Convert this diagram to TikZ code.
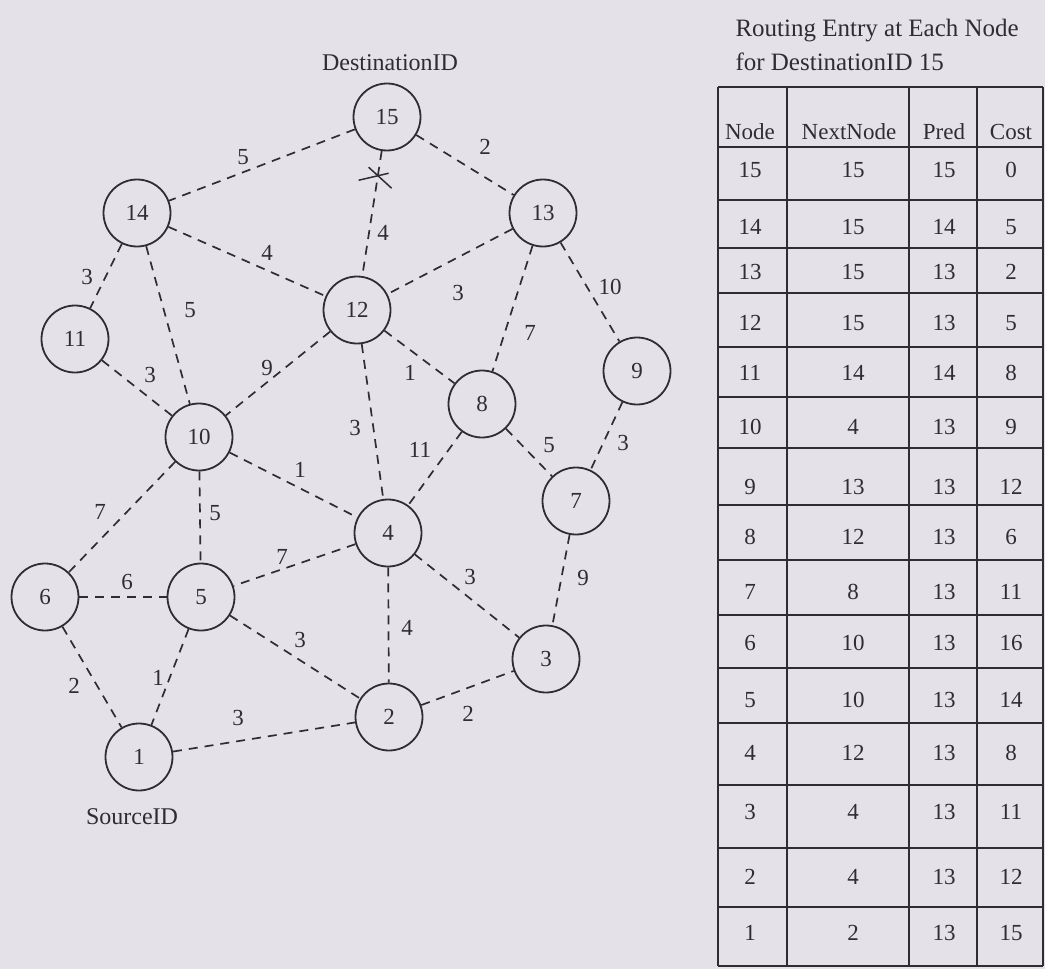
\documentclass[tikz,border=0pt]{standalone}
\usepackage{fontspec}
\setmainfont{Liberation Serif}
\definecolor{paper}{HTML}{E5E1E9}
\definecolor{ink}{HTML}{2F2C34}
\tikzset{
  station/.style={circle,draw=ink,line width=1.8pt,minimum size=67pt,inner sep=0pt,
    font=\fontsize{23}{26}\selectfont,text=ink},
  link/.style={draw=ink,line width=1.7pt,dash pattern=on 9pt off 7pt},
  weight/.style={font=\fontsize{23}{26}\selectfont,text=ink,inner sep=1pt},
  cell/.style={font=\fontsize{23}{26}\selectfont,text=ink,inner sep=1pt},
  rule/.style={draw=ink,line width=1.9pt},
}

\begin{document}
\begin{tikzpicture}[x=1pt,y=-1pt]
  \fill[paper] (0,0) rectangle (1045,969);
  % network
  \foreach \id/\x/\y in {15/387/117, 14/137/213, 13/543/213, 12/357/310, 11/75/339,
    9/637/371, 8/482/404, 10/199/437, 7/576/501, 4/388/533, 6/45/597, 5/201/597,
    3/546/659, 2/389/717, 1/139/757}
    \node[station] (n\id) at (\x,\y) {\id};
  \node[font=\fontsize{24}{28}\selectfont,text=ink] (dest) at (390,63) {DestinationID};
  \node[font=\fontsize{24}{28}\selectfont,text=ink] (src) at (132,817) {SourceID};
  \foreach \a/\b/\w/\x/\y in {15/14/5/243/157, 15/13/2/485/147, 14/12/4/267/253,
    14/11/3/87/277, 14/10/5/190/310, 13/12/3/458/293, 13/8/7/530/333, 13/9/10/610/287,
    12/10/9/267/368, 12/8/1/410/373, 12/4/3/355/428, 11/10/3/150/375, 10/4/1/300/470,
    10/6/7/100/512, 10/5/5/215/513, 8/4/11/420/450, 8/7/5/549/445, 9/7/3/623/443,
    7/3/9/583/578, 4/5/7/282/557, 4/2/4/407/628, 4/3/3/470/577, 6/5/6/127/582,
    6/1/2/74/686, 5/1/1/158/678, 5/2/3/300/640, 1/2/3/238/718, 2/3/2/468/714}{
    \draw[link] (n\a) -- (n\b);
    \node[weight] (w\a-\b) at (\x,\y) {\w};
  }
  % broken link 15--12
  \draw[link] (n15) -- coordinate[pos=.21] (cut) (n12);
  \node[weight] (w15-12) at (383,233) {4};
  \draw[ink,line width=1.5pt] ([shift={(-19,3)}]cut) -- ([shift={(11,-4)}]cut);
  \draw[ink,line width=1.5pt] ([shift={(-9,-10)}]cut) -- ([shift={(14,11)}]cut);
  % routing table
  \node[anchor=base west,font=\fontsize{25}{29}\selectfont,text=ink] (title) at (732,36)
    {Routing Entry at Each Node};
  \node[anchor=base west,font=\fontsize{25}{29}\selectfont,text=ink] (subtitle) at (732,70)
    {for DestinationID 15};
  \foreach \y in {87,147,200,248,293,347,397,448,505,560,615,668,723,785,848,907,966}
    \draw[rule] (718,\y) -- (1043,\y);
  \foreach \x in {718,787,909,977,1043}
    \draw[rule] (\x,87) -- (\x,966);
  \node[cell] (hnode) at (750,132) {Node};
  \node[cell] (hnext) at (849,132) {NextNode};
  \node[cell] (hpred) at (944,132) {Pred};
  \node[cell] (hcost) at (1011,132) {Cost};
  \foreach \y/\n/\nx/\p/\c in {170/15/15/15/0, 227/14/15/14/5, 272/13/15/13/2,
    323/12/15/13/5, 373/11/14/14/8, 427/10/4/13/9, 487/9/13/13/12, 537/8/12/13/6,
    592/7/8/13/11, 643/6/10/13/16, 700/5/10/13/14, 753/4/12/13/8, 812/3/4/13/11,
    877/2/4/13/12, 933/1/2/13/15}{
    \node[cell] (r\n-a) at (750,\y) {\n};
    \node[cell] (r\n-b) at (853,\y) {\nx};
    \node[cell] (r\n-c) at (944,\y) {\p};
    \node[cell] (r\n-d) at (1011,\y) {\c};
  }
\end{tikzpicture}
\end{document}
